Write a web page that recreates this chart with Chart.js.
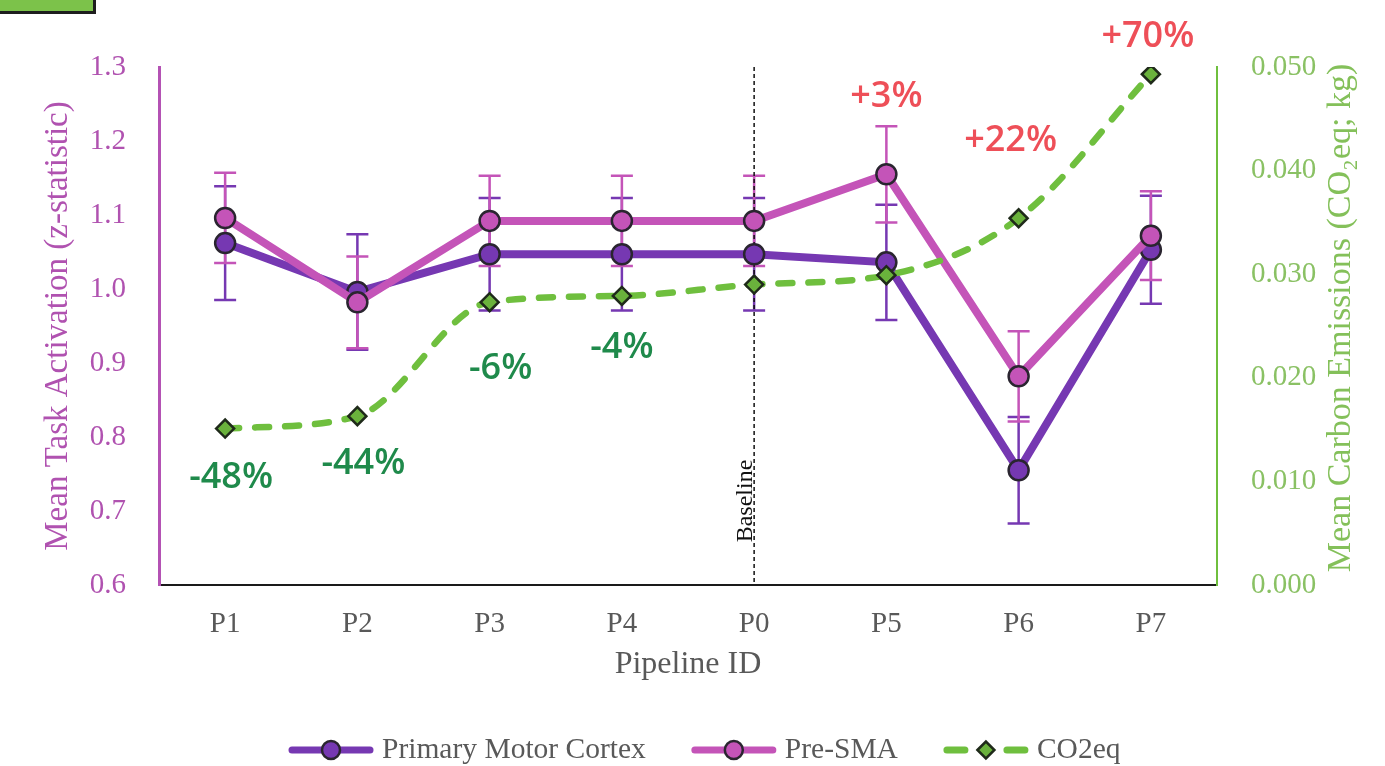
<!DOCTYPE html>
<html>
<head>
<meta charset="utf-8">
<script src="https://cdn.jsdelivr.net/npm/chart.js@4.4.1/dist/chart.umd.min.js"></script>
<style>
  html, body { margin: 0; padding: 0; background: #fff; overflow: hidden; }
  #wrap { position: relative; width: 1385px; height: 766px; }
  #tab { position: absolute; left: -10px; top: -10px; width: 106px; height: 24px; box-sizing: border-box;
         background: #7cc24a; border: 3px solid #1e1e1e; }
  canvas { display: block; }
</style>
</head>
<body>
<div id="wrap">
  <canvas id="c" width="1385" height="766"></canvas>
  <div id="tab"></div>
</div>
<script>
// Pipelines in display order (P0 is the baseline pipeline)
const pipelines = ['P1', 'P2', 'P3', 'P4', 'P0', 'P5', 'P6', 'P7'];
const baselinePipeline = 'P0';

// Mean task activation (z-statistic) and error half-widths
const motorCortex    = [1.062, 0.996, 1.047, 1.047, 1.047, 1.036, 0.755, 1.053];
const motorCortexErr = [0.077, 0.078, 0.076, 0.076, 0.076, 0.078, 0.072, 0.073];
const preSma         = [1.096, 0.982, 1.092, 1.092, 1.092, 1.155, 0.882, 1.072];
const preSmaErr      = [0.061, 0.062, 0.061, 0.061, 0.061, 0.065, 0.061, 0.060];

// Mean carbon emissions (kg CO2eq) and change relative to baseline
const co2eq     = [0.0151, 0.0163, 0.0273, 0.0279, 0.0290, 0.0299, 0.0354, 0.0493];
const co2Change = ['-48%', '-44%', '-6%', '-4%', '', '+3%', '+22%', '+70%'];

// Axis ranges
const activationRange = [0.6, 1.3, 0.1];
const emissionRange   = [0.0, 0.05, 0.01];

const PURPLE = '#7638b2';
const PINK   = '#c454b8';
const GREEN  = '#6fbf3e';
const MARKER_EDGE = '#2a2530';
const SERIF = '"Liberation Serif", "Times New Roman", serif';

// label offsets (px) from each emission marker
const changeLabelOffsets = [[6, 49], [6, 48], [11, 67], [0, 52], [0, 0], [0, -178], [-8, -78], [-3, -38]];

const errorBarPlugin = {
  id: 'errorBars',
  beforeDatasetsDraw(chart) {
    const { ctx, scales: { x, y } } = chart;
    const series = [[motorCortex, motorCortexErr, PURPLE], [preSma, preSmaErr, PINK]];
    ctx.save();
    ctx.lineWidth = 2.5;
    series.forEach(([vals, errs, color]) => {
      ctx.strokeStyle = color;
      vals.forEach((v, i) => {
        const px = x.getPixelForValue(i);
        const top = y.getPixelForValue(v + errs[i]);
        const bot = y.getPixelForValue(v - errs[i]);
        ctx.beginPath();
        ctx.moveTo(px, top); ctx.lineTo(px, bot);
        ctx.moveTo(px - 11, top); ctx.lineTo(px + 11, top);
        ctx.moveTo(px - 11, bot); ctx.lineTo(px + 11, bot);
        ctx.stroke();
      });
    });
    ctx.restore();
  }
};

const baselinePlugin = {
  id: 'baselineMarker',
  beforeDatasetsDraw(chart) {
    const { ctx, chartArea, scales: { x } } = chart;
    const px = x.getPixelForValue(pipelines.indexOf(baselinePipeline));
    ctx.save();
    ctx.strokeStyle = '#111';
    ctx.lineWidth = 1.5;
    ctx.setLineDash([4, 3]);
    ctx.beginPath();
    ctx.moveTo(px, chartArea.top);
    ctx.lineTo(px, chartArea.bottom);
    ctx.stroke();
    ctx.setLineDash([]);
    ctx.translate(px - 2, 501);
    ctx.rotate(-Math.PI / 2);
    ctx.fillStyle = '#111';
    ctx.font = '24px ' + SERIF;
    ctx.textAlign = 'center';
    ctx.textBaseline = 'alphabetic';
    ctx.fillText('Baseline', 0, 0);
    ctx.restore();
  }
};

const changeLabelPlugin = {
  id: 'changeLabels',
  afterDatasetsDraw(chart) {
    const { ctx, scales: { x, y1 } } = chart;
    ctx.save();
    ctx.font = '600 36px "Open Sans", "Noto Sans", sans-serif';
    ctx.textAlign = 'center';
    ctx.textBaseline = 'middle';
    co2Change.forEach((t, i) => {
      if (!t) return;
      const px = x.getPixelForValue(i) + changeLabelOffsets[i][0];
      const py = y1.getPixelForValue(co2eq[i]) + changeLabelOffsets[i][1];
      ctx.fillStyle = t.startsWith('+') ? '#ee4f58' : '#1f8a4b';
      ctx.fillText(t, px, py);
    });
    ctx.restore();
  }
};

const rightTitlePlugin = {
  id: 'rightTitle',
  afterDraw(chart) {
    const { ctx, chartArea } = chart;
    ctx.save();
    ctx.translate(1341, (chartArea.top + chartArea.bottom) / 2 - 8);
    ctx.rotate(-Math.PI / 2);
    ctx.fillStyle = '#84c05a';
    ctx.font = '34px ' + SERIF;
    ctx.textAlign = 'center';
    ctx.textBaseline = 'middle';
    ctx.fillText('Mean Carbon Emissions (CO\u2082eq; kg)', 0, 0);
    ctx.restore();
  }
};

const legendPlugin = {
  id: 'lineLegend',
  afterDraw(chart) {
    const { ctx } = chart;
    const items = [
      { text: 'Primary Motor Cortex', color: PURPLE, kind: 'circle' },
      { text: 'Pre-SMA', color: PINK, kind: 'circle' },
      { text: 'CO2eq', color: GREEN, kind: 'diamond' }
    ];
    const cy = 750;
    let xPos = 288;
    ctx.save();
    ctx.font = '29.5px ' + SERIF;
    ctx.textBaseline = 'middle';
    items.forEach(it => {
      const w = 86;
      ctx.strokeStyle = it.color;
      ctx.lineWidth = 7;
      ctx.lineCap = 'round';
      if (it.kind === 'circle') {
        ctx.beginPath(); ctx.moveTo(xPos + 4, cy); ctx.lineTo(xPos + w - 4, cy); ctx.stroke();
        ctx.beginPath(); ctx.arc(xPos + w / 2, cy, 9, 0, Math.PI * 2);
        ctx.fillStyle = it.color; ctx.fill();
        ctx.lineWidth = 2.5; ctx.strokeStyle = MARKER_EDGE; ctx.stroke();
      } else {
        ctx.beginPath(); ctx.moveTo(xPos + 4, cy); ctx.lineTo(xPos + 22, cy); ctx.stroke();
        ctx.beginPath(); ctx.moveTo(xPos + w - 22, cy); ctx.lineTo(xPos + w - 4, cy); ctx.stroke();
        const cx = xPos + w / 2;
        ctx.beginPath();
        ctx.moveTo(cx - 8.5, cy); ctx.lineTo(cx, cy - 8.5); ctx.lineTo(cx + 8.5, cy); ctx.lineTo(cx, cy + 8.5); ctx.closePath();
        ctx.fillStyle = '#6ab23c'; ctx.fill();
        ctx.lineWidth = 2.5; ctx.strokeStyle = '#1f2a1a'; ctx.stroke();
      }
      ctx.fillStyle = '#595959';
      ctx.textAlign = 'left';
      ctx.fillText(it.text, xPos + w + 8, cy);
      xPos += w + 8 + ctx.measureText(it.text).width + 45;
    });
    ctx.restore();
  }
};

new Chart(document.getElementById('c'), {
  type: 'line',
  data: {
    labels: pipelines,
    datasets: [
      {
        label: 'Primary Motor Cortex', data: motorCortex, yAxisID: 'y', order: 2,
        borderColor: PURPLE, backgroundColor: PURPLE, borderWidth: 8, tension: 0,
        pointRadius: 10, pointBorderWidth: 2.5, pointBorderColor: MARKER_EDGE, pointBackgroundColor: PURPLE
      },
      {
        label: 'Pre-SMA', data: preSma, yAxisID: 'y', order: 1,
        borderColor: PINK, backgroundColor: PINK, borderWidth: 8, tension: 0,
        pointRadius: 10, pointBorderWidth: 2.5, pointBorderColor: MARKER_EDGE, pointBackgroundColor: PINK
      },
      {
        label: 'CO2eq', data: co2eq, yAxisID: 'y1', order: 0,
        borderColor: GREEN, backgroundColor: GREEN, borderWidth: 6.5, borderDash: [14, 16], borderCapStyle: 'round',
        cubicInterpolationMode: 'monotone', pointStyle: 'rectRot', pointRadius: 9, pointBorderWidth: 2.5,
        pointBorderColor: '#1f2a1a', pointBackgroundColor: '#6ab23c'
      }
    ]
  },
  options: {
    responsive: false,
    animation: false,
    devicePixelRatio: 1,
    layout: { padding: { top: 67, bottom: 71, left: 0, right: 0 } },
    plugins: { legend: { display: false }, tooltip: { enabled: false } },
    scales: {
      x: {
        type: 'category', offset: true,
        grid: { display: false },
        border: { display: true, color: '#1a1a1a', width: 2 },
        ticks: { color: '#595959', font: { family: SERIF, size: 29 }, padding: 14 },
        title: { display: true, text: 'Pipeline ID', color: '#595959', font: { family: SERIF, size: 32 }, padding: { top: 0, bottom: 11 } },
        afterFit(s) { s.height = 110; }
      },
      y: {
        position: 'left', min: activationRange[0], max: activationRange[1],
        grid: { display: false },
        border: { display: true, color: '#b452b4', width: 3 },
        ticks: { stepSize: activationRange[2], color: '#b052b0', font: { family: SERIF, size: 29 }, padding: 25,
                 callback: v => Number(v).toFixed(1) },
        title: { display: true, text: 'Mean Task Activation (z-statistic)', color: '#b052b0',
                 font: { family: SERIF, size: 33 }, padding: { top: 39, bottom: 0 } },
        afterFit(s) { s.width = 159; }
      },
      y1: {
        position: 'right', min: emissionRange[0], max: emissionRange[1],
        grid: { display: false },
        border: { display: true, color: '#6fbf3e', width: 2 },
        ticks: { stepSize: emissionRange[2], color: '#8ac164', font: { family: SERIF, size: 29 }, padding: 26,
                 callback: v => Number(v).toFixed(3) },
        afterFit(s) { s.width = 168; }
      }
    }
  },
  plugins: [errorBarPlugin, baselinePlugin, changeLabelPlugin, rightTitlePlugin, legendPlugin]
});
</script>
</body>
</html>
